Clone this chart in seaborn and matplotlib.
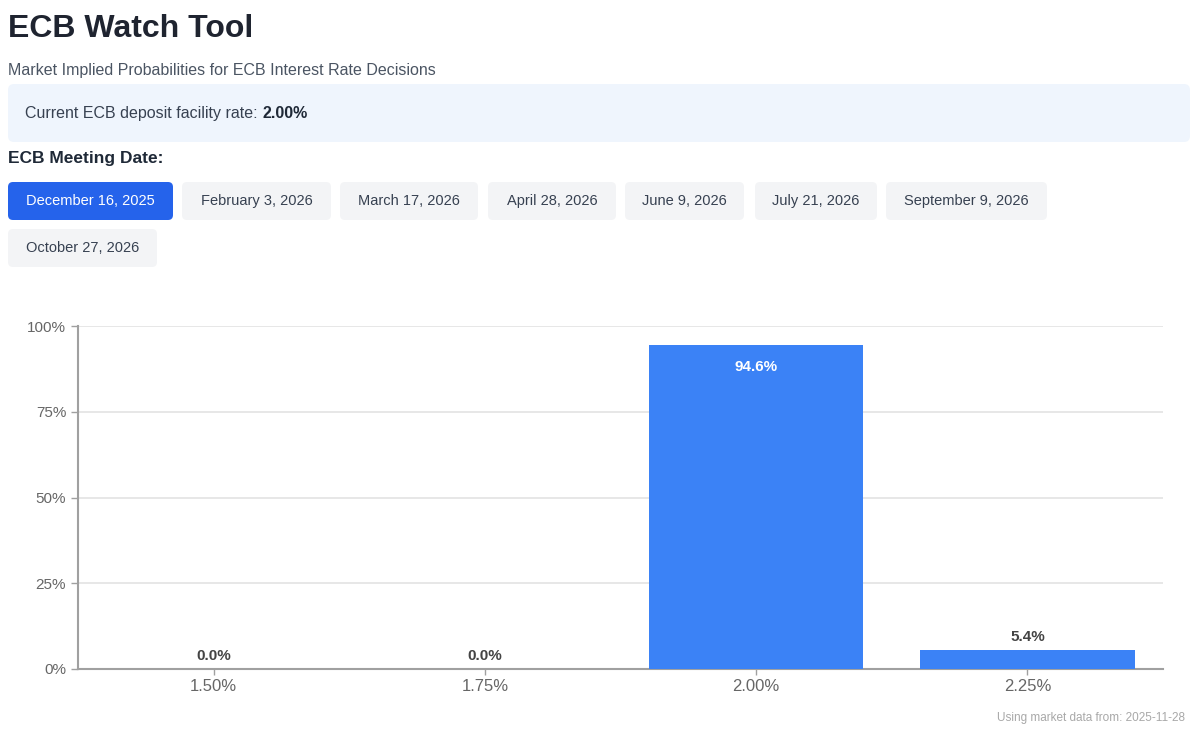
import pandas as pd
import matplotlib.pyplot as plt
import seaborn as sns
from matplotlib.patches import FancyBboxPatch

# Datos del gráfico
rates = ['1.50%', '1.75%', '2.00%', '2.25%']
probabilities = [0.0, 0.0, 94.6, 5.4]
y_ticks = [0, 25, 50, 75, 100]
meeting_dates = ['December 16, 2025', 'February 3, 2026', 'March 17, 2026', 'April 28, 2026',
                 'June 9, 2026', 'July 21, 2026', 'September 9, 2026', 'October 27, 2026']
current_rate = '2.00%'
data_date = '2025-11-28'

BLUE = '#3b82f6'

def draw_header(fig):
    # Capa de fondo en píxeles para el encabezado y los botones
    bg = fig.add_axes([0, 0, 1, 1], zorder=0)
    bg.set_xlim(0, 1200)
    bg.set_ylim(744, 0)
    bg.axis('off')

    bg.text(8, 29, 'ECB Watch Tool', fontsize=23, fontweight='bold', color='#1f2430', va='center')
    bg.text(8, 70, 'Market Implied Probabilities for ECB Interest Rate Decisions',
            fontsize=11.5, color='#4b5563', va='center')

    bg.add_patch(FancyBboxPatch((8, 84), 1182, 58, boxstyle='round,pad=0,rounding_size=6',
                                facecolor='#eff5fd', edgecolor='none'))
    t = bg.text(25, 118, 'Current ECB deposit facility rate:', fontsize=11.5, color='#374151',
                va='baseline')
    fig.canvas.draw()
    bb = t.get_window_extent().transformed(bg.transData.inverted())
    bg.text(bb.x1 + 5, 118, current_rate, fontsize=11.5, fontweight='bold', color='#1f2937',
            va='baseline')

    bg.text(8, 158, 'ECB Meeting Date:', fontsize=12.5, fontweight='bold', color='#1f2937', va='center')

    # Botones de fechas
    buttons = [(8, 173, 182), (182, 331, 182), (340, 478, 182), (488, 616, 182),
               (625, 744, 182), (755, 877, 182), (886, 1047, 182), (8, 157, 229)]
    for i, (label, (x0, x1, y0)) in enumerate(zip(meeting_dates, buttons)):
        active = i == 0
        bg.add_patch(FancyBboxPatch((x0, y0), x1 - x0, 38, boxstyle='round,pad=0,rounding_size=5',
                                    facecolor='#2563eb' if active else '#f3f4f6', edgecolor='none'))
        bg.text((x0 + x1) / 2, y0 + 19, label, fontsize=10.5, ha='center', va='center',
                color='white' if active else '#374151')

    bg.text(1185, 718, f'Using market data from: {data_date}', fontsize=8.5,
            color='#a8a8a8', ha='right', va='center')

def create_chart():
    sns.set_theme(style='white')
    plt.rcParams['font.family'] = ['Liberation Sans', 'DejaVu Sans']

    fig = plt.figure(figsize=(12, 7.44), dpi=100)
    fig.patch.set_facecolor('white')
    draw_header(fig)

    df = pd.DataFrame({'Rate': rates, 'Probability': probabilities})
    ax = fig.add_axes([78 / 1200, 1 - 669 / 744, 1085 / 1200, 343 / 744], zorder=1)
    ax.set_facecolor('none')
    sns.barplot(data=df, x='Rate', y='Probability', color=BLUE, saturation=1,
                width=0.79, linewidth=0, edgecolor='none', ax=ax, zorder=3)

    ax.set_ylim(0, 100)
    ax.set_xlim(-0.5, len(rates) - 0.5)
    ax.set_yticks(y_ticks)
    ax.set_yticklabels([f'{v}%' for v in y_ticks])
    ax.yaxis.grid(True, color='#e3e3e3', linewidth=1.2, zorder=0)
    ax.set_xlabel('')
    ax.set_ylabel('')

    for side in ['top', 'right']:
        ax.spines[side].set_visible(False)
    ax.spines['left'].set_color('#a0a0a0')
    ax.spines['left'].set_linewidth(1.5)
    ax.spines['bottom'].set_color('#a0a0a0')
    ax.spines['bottom'].set_linewidth(1.5)
    ax.tick_params(axis='y', labelsize=11, colors='#666666', length=5, width=1, color='#a0a0a0')
    ax.tick_params(axis='x', labelsize=12, colors='#666666', length=4, width=1, color='#a0a0a0')
    ax.tick_params(axis='both', which='both', left=True, bottom=True)

    # Etiquetas de valor
    for i, v in enumerate(probabilities):
        if v > 50:
            ax.text(i, v - 4.5, f'{v:.1f}%', ha='center', va='top', fontsize=11,
                    fontweight='bold', color='white', zorder=4)
        else:
            ax.text(i, v + 1.8, f'{v:.1f}%', ha='center', va='bottom', fontsize=11,
                    fontweight='bold', color='#444444', zorder=4)

    fig.savefig('out.png', dpi=100, facecolor='white')

if __name__ == '__main__':
    create_chart()
